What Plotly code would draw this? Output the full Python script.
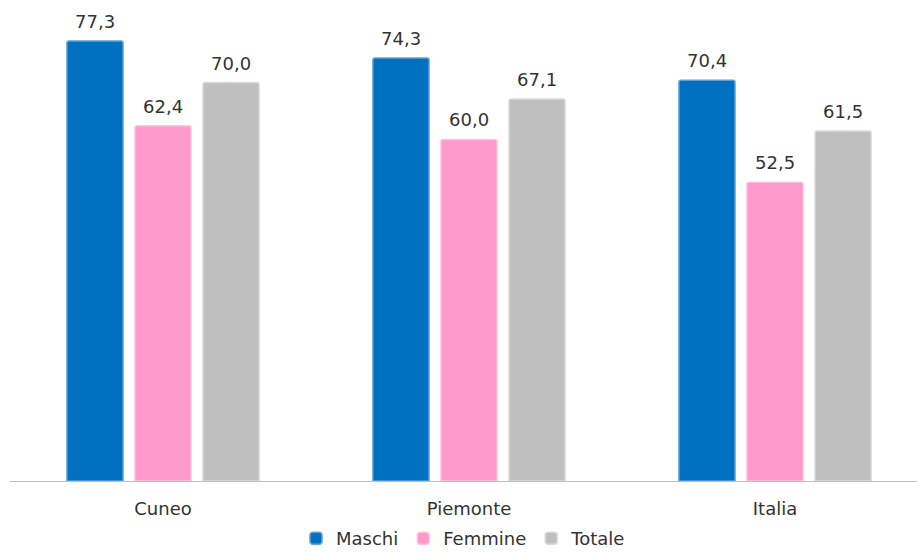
import plotly.graph_objects as go

# Tasso di occupazione per area e genere
aree = ["Cuneo", "Piemonte", "Italia"]
maschi = [77.3, 74.3, 70.4]
femmine = [62.4, 60.0, 52.5]
totale = [70.0, 67.1, 61.5]

serie = [
    ("Maschi", maschi, "#0070C0", "#5FA0DC"),
    ("Femmine", femmine, "#FF99CC", "#FFC2E0"),
    ("Totale", totale, "#BFBFBF", "#D9D9D9"),
]

BARGAP = 0.333
GROUPGAP = 0.176
FONT = "DejaVu Sans"
TESTO = "#333333"

fig = go.Figure()
slot = (1 - BARGAP) / len(serie)
for j, (nome, valori, colore, bordo) in enumerate(serie):
    fig.add_trace(go.Bar(
        name=nome,
        x=aree,
        y=valori,
        marker=dict(color=colore, line=dict(color=bordo, width=1.5), cornerradius=2),
    ))
    # etichette dei valori sopra ogni barra
    offset = (j - (len(serie) - 1) / 2) * slot
    for i, v in enumerate(valori):
        fig.add_annotation(
            x=i + offset, y=v, xref="x", yref="y",
            text=f"{v:.1f}".replace(".", ","),
            showarrow=False, yanchor="bottom", yshift=7,
            font=dict(family=FONT, size=18, color=TESTO),
        )

fig.update_layout(
    width=917,
    height=553,
    barmode="group",
    bargap=BARGAP,
    bargroupgap=GROUPGAP,
    plot_bgcolor="white",
    paper_bgcolor="white",
    margin=dict(l=10, r=0, t=0, b=72, autoexpand=False),
    font=dict(family=FONT, size=18, color=TESTO),
    showlegend=True,
    legend=dict(
        orientation="h",
        x=0.5,
        xanchor="center",
        yref="container",
        y=0.026,
        yanchor="middle",
        font=dict(size=18, color=TESTO),
        itemwidth=30,
        tracegroupgap=0,
    ),
)
fig.update_xaxes(
    range=[-0.5, 2.464],
    showline=True,
    linecolor="#BFBFBF",
    linewidth=1,
    ticks="",
    showgrid=False,
    automargin=False,
    ticklabelstandoff=11,
    tickfont=dict(size=18, color=TESTO),
)
fig.update_yaxes(
    range=[0, 84.5],
    showticklabels=False,
    showgrid=False,
    zeroline=False,
    showline=False,
    automargin=False,
)

fig.write_html("out.html")
